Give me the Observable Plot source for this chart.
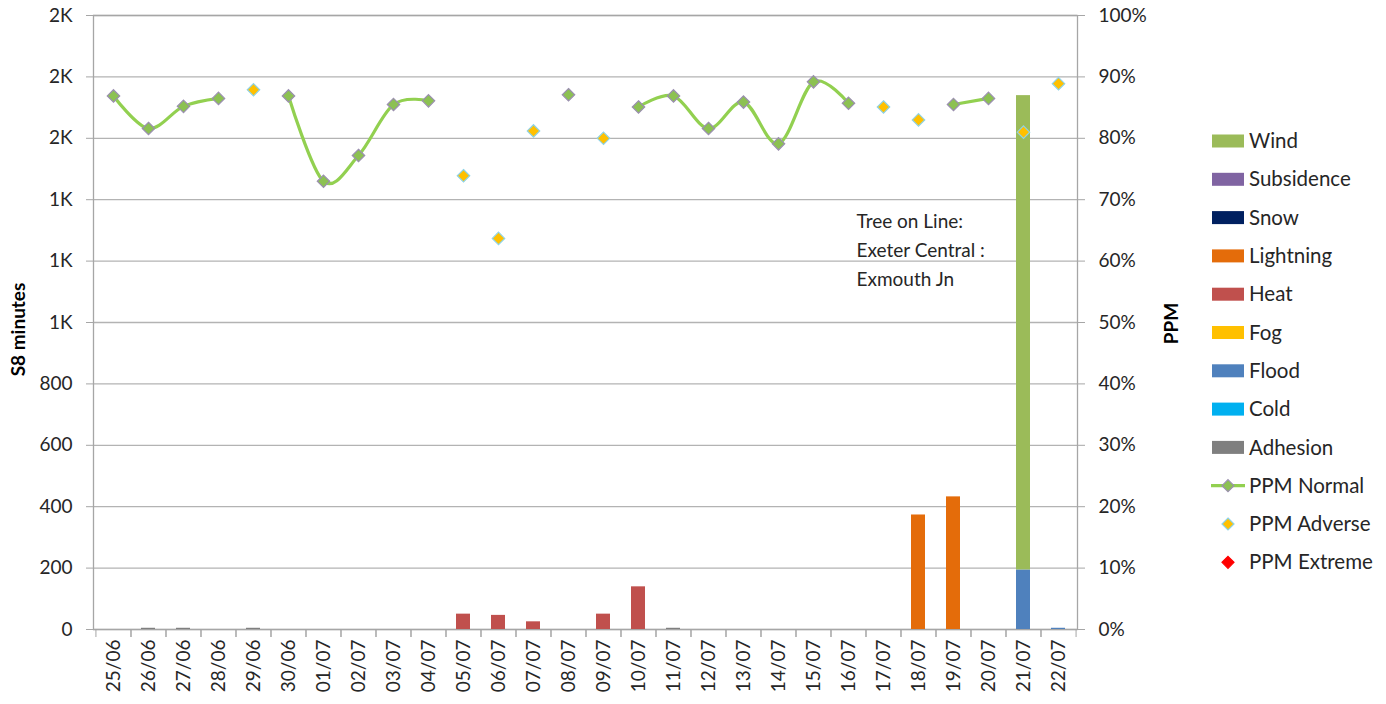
<!DOCTYPE html>
<html>
<head>
<meta charset="utf-8">
<script src="https://cdn.jsdelivr.net/npm/d3@7"></script>
<script src="https://cdn.jsdelivr.net/npm/@observablehq/plot@0.6"></script>
<style>
  body { margin: 0; background: #fff; }
  #wrap { position: relative; width: 1386px; height: 704px; overflow: hidden; }
  #legend { position: absolute; left: 0; top: 0; pointer-events: none; }
</style>
</head>
<body>
<div id="wrap"></div>
<script>
const dates = ["25/06","26/06","27/06","28/06","29/06","30/06","01/07","02/07","03/07","04/07","05/07","06/07","07/07","08/07","09/07","10/07","11/07","12/07","13/07","14/07","15/07","16/07","17/07","18/07","19/07","20/07","21/07","22/07"];

// stack order, bottom -> top
const seriesNames  = ["Adhesion","Cold","Flood","Fog","Heat","Lightning","Snow","Subsidence","Wind"];
const seriesColors = ["#7f7f7f","#00b0f0","#4f81bd","#ffc000","#c0504d","#e46c0a","#002060","#8064a2","#9bbb59"];

const adhesion   = [0,4,4,0,4,0,0,0,0,0,0,0,0,0,0,0,4,0,0,0,0,0,0,0,0,0,0,0];
const cold       = [0,0,0,0,0,0,0,0,0,0,0,0,0,0,0,0,0,0,0,0,0,0,0,0,0,0,0,0];
const flood      = [0,0,0,0,0,0,0,0,0,0,0,0,0,0,0,0,0,0,0,0,0,0,0,0,0,0,194,4];
const fog        = [0,0,0,0,0,0,0,0,0,0,0,0,0,0,0,0,0,0,0,0,0,0,0,0,0,0,0,0];
const heat       = [0,0,0,0,0,0,0,0,0,0,50,46,25,0,50,139,0,0,0,0,0,0,0,0,0,0,0,0];
const lightning  = [0,0,0,0,0,0,0,0,0,0,0,0,0,0,0,0,0,0,0,0,0,0,0,373,432,0,0,0];
const snow       = [0,0,0,0,0,0,0,0,0,0,0,0,0,0,0,0,0,0,0,0,0,0,0,0,0,0,0,0];
const subsidence = [0,0,0,0,0,0,0,0,0,0,0,0,0,0,0,0,0,0,0,0,0,0,0,0,0,0,0,0];
const wind       = [0,0,0,0,0,0,0,0,0,0,0,0,0,0,0,0,0,0,0,0,0,0,0,0,0,0,1545,0];

// PPM (%)
const ppmNormal  = [86.9,81.6,85.2,86.5,null,86.9,73.0,77.2,85.5,86.1,null,null,null,87.1,null,85.1,86.9,81.6,85.9,79.1,89.2,85.7,null,null,85.5,86.5,null,null];
const ppmAdverse = [null,null,null,null,87.9,null,null,null,null,null,73.9,63.7,81.2,null,80.0,null,null,null,null,null,null,null,85.1,83.0,null,null,81.0,88.9];
const ppmExtreme = [null,null,null,null,null,null,null,null,null,null,null,null,null,null,null,null,null,null,null,null,null,null,null,null,null,null,null,null];

const leftTicks = [0,200,400,600,800,1000,1200,1400,1600,1800,2000];
const rightTickLabels = ["0%","10%","20%","30%","40%","50%","60%","70%","80%","90%","100%"];
const annotation = "Tree on Line:\nExeter Central :\nExmouth Jn";

const legendBars = ["Wind","Subsidence","Snow","Lightning","Heat","Fog","Flood","Cold","Adhesion"];
const legendPoints = ["PPM Normal","PPM Adverse","PPM Extreme"];

const seriesValues = [adhesion,cold,flood,fog,heat,lightning,snow,subsidence,wind];
const bars = [];
seriesNames.forEach((s, k) => dates.forEach((d, i) => {
  if (seriesValues[k][i] > 0) bars.push({date: d, series: s, value: seriesValues[k][i]});
}));
const ppmRows = dates.map((d, i) => ({date: d, normal: ppmNormal[i], adverse: ppmAdverse[i], extreme: ppmExtreme[i]}));
const PPM_TO_Y = 2000 / 100;
const toY = v => (v == null ? NaN : v * PPM_TO_Y);

const W = 1386, H = 704, mL = 93, mR = 309, mT = 15, mB = 75;
const step = (W - mL - mR) / dates.length;
const gray = "#a6a6a6";
const ink = "#262626";
const FONT = "Lato, 'Open Sans', sans-serif";

const chart = Plot.plot({
  width: W, height: H,
  marginLeft: mL, marginRight: mR, marginTop: mT, marginBottom: mB,
  style: {fontFamily: FONT, fontSize: "19px", color: ink, background: "#fff", overflow: "visible"},
  x: {domain: dates, paddingInner: 0.6, paddingOuter: 0.3, label: null},
  y: {domain: [0, 2000], label: null},
  color: {domain: seriesNames, range: seriesColors},
  marks: [
    Plot.gridY(leftTicks, {stroke: "#b3b3b3", strokeOpacity: 1, strokeWidth: 1.3}),
    Plot.frame({stroke: gray, strokeWidth: 1.3}),
    Plot.barY(bars, Plot.stackY({x: "date", y: "value", fill: "series", order: seriesNames})),
    Plot.line(ppmRows, {x: "date", y: d => toY(d.normal), stroke: "#92d050", strokeWidth: 3.2, curve: "cardinal"}),
    Plot.dot(ppmRows, {x: "date", y: d => toY(d.normal), symbol: "diamond2", r: 5.6, fill: "#8cc152", stroke: "#9b8fb0", strokeWidth: 1.2}),
    Plot.dot(ppmRows, {x: "date", y: d => toY(d.adverse), symbol: "diamond2", r: 5.6, fill: "#ffc000", stroke: "#8fd3e6", strokeWidth: 1.2}),
    Plot.dot(ppmRows, {x: "date", y: d => toY(d.extreme), symbol: "diamond2", r: 5.6, fill: "#ff0000", stroke: "#ff0000", strokeWidth: 1}),
    Plot.text([annotation], {x: () => "16/07", y: () => 1375, text: d => d, textAnchor: "start", lineAnchor: "top", dx: 8, lineHeight: 1.52, fill: ink, fontSize: 19}),
    Plot.axisY(leftTicks, {anchor: "left", tickSize: 7, tickPadding: 14, stroke: gray, fill: ink, tickFormat: d => d >= 1000 ? Math.round(d / 1000) + "K" : String(d), label: null}),
    Plot.axisY(leftTicks, {anchor: "right", tickSize: 7, tickPadding: 14, stroke: gray, fill: ink, tickFormat: d => rightTickLabels[leftTicks.indexOf(d)], label: null}),
    Plot.axisX({tickSize: 0, tickPadding: 10, tickRotate: -90, fill: ink, label: null}),
    Plot.axisX({tickSize: 8, tickFormat: () => "", dx: -step / 2, stroke: gray, label: null}),
    Plot.axisX({tickSize: 8, tickFormat: () => "", dx: step / 2, stroke: gray, label: null}),
    Plot.text(["S8 minutes"], {frameAnchor: "left", textAnchor: "middle", dx: -75, dy: 7, rotate: -90, text: d => d, fontWeight: "bold", fontSize: 19, fill: "#000"}),
    Plot.text(["PPM"], {frameAnchor: "right", textAnchor: "middle", dx: 94, dy: 1, rotate: -90, text: d => d, fontWeight: "bold", fontSize: 19, fill: "#000"})
  ]
});
document.getElementById("wrap").appendChild(chart);

// Legend
const colorOf = name => seriesColors[seriesNames.indexOf(name)];
const lg = d3.select("#wrap").append("svg").attr("id", "legend").attr("width", W).attr("height", H)
  .style("font-family", FONT).style("font-size", "20.5px");
const y0 = 141, dy = 38.3, sx = 1212, sw = 32, tx = 1249;
legendBars.forEach((name, i) => {
  const y = y0 + i * dy;
  lg.append("rect").attr("x", sx).attr("y", y - 6.5).attr("width", sw).attr("height", 13).attr("fill", colorOf(name));
  lg.append("text").attr("x", tx).attr("y", y).attr("dy", "0.35em").attr("fill", ink).text(name);
});
const diamond = (cx, cy, r) => `M${cx},${cy - r}L${cx + r},${cy}L${cx},${cy + r}L${cx - r},${cy}Z`;
const pointStyles = [
  {fill: "#8cc152", stroke: "#9b8fb0", line: "#92d050"},
  {fill: "#ffc000", stroke: "#8fd3e6", line: null},
  {fill: "#ff0000", stroke: "#ff0000", line: null}
];
legendPoints.forEach((name, j) => {
  const y = y0 + (legendBars.length + j) * dy;
  const st = pointStyles[j];
  if (st.line) lg.append("line").attr("x1", sx - 1).attr("x2", sx + sw + 1).attr("y1", y).attr("y2", y).attr("stroke", st.line).attr("stroke-width", 3.2);
  lg.append("path").attr("d", diamond(sx + sw / 2, y, 6)).attr("fill", st.fill).attr("stroke", st.stroke).attr("stroke-width", 1.2);
  lg.append("text").attr("x", tx).attr("y", y).attr("dy", "0.35em").attr("fill", ink).text(name);
});
</script>
</body>
</html>
